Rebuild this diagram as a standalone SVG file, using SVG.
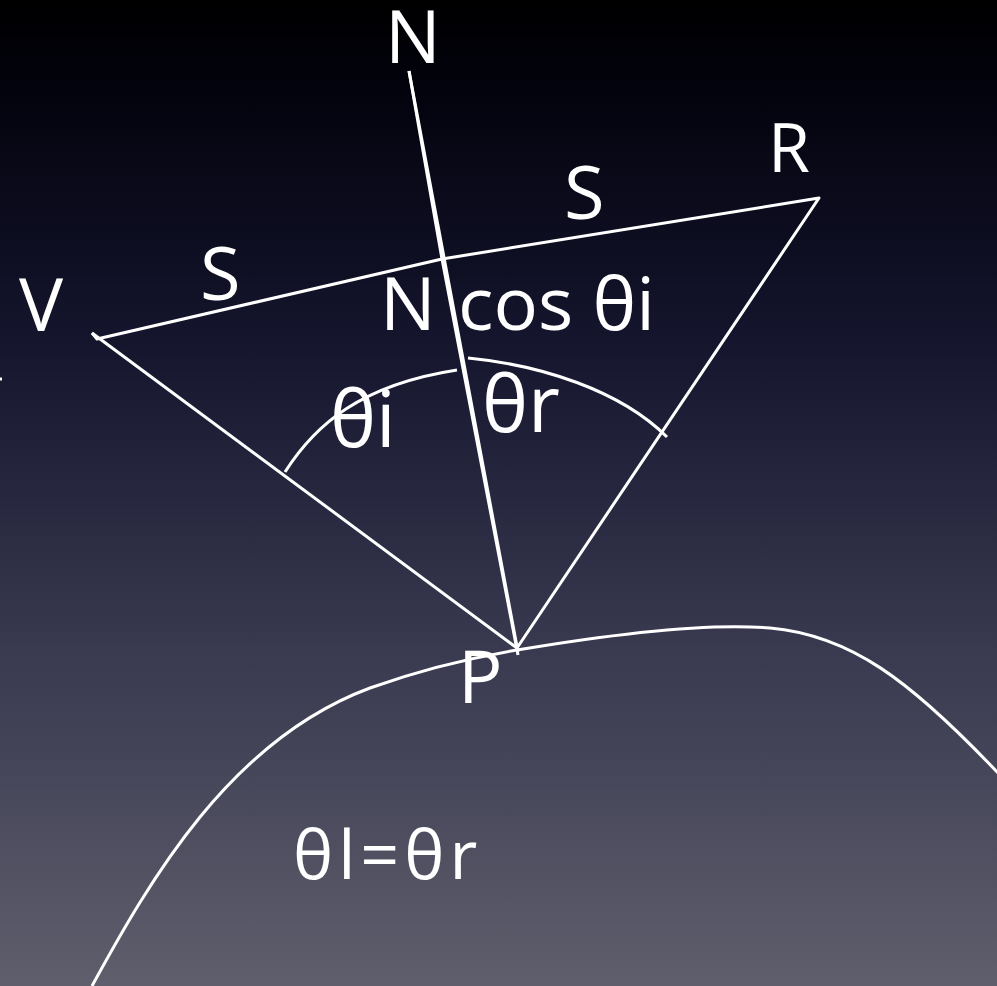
<svg xmlns="http://www.w3.org/2000/svg" width="997" height="986" viewBox="0 0 997 986">
<defs>
<linearGradient id="bg" x1="0" y1="0" x2="0" y2="1">
<stop offset="0" stop-color="#000000"/>
<stop offset="0.08" stop-color="#02020c"/>
<stop offset="0.35" stop-color="#15152e"/>
<stop offset="0.65" stop-color="#38384f"/>
<stop offset="1" stop-color="#5e5e6c"/>
</linearGradient>
<style>
.ln{fill:none;stroke:#ffffff;stroke-width:3;stroke-linecap:butt;stroke-linejoin:round}
.lb{fill:#ffffff;font-family:"Open Sans","Noto Sans","DejaVu Sans",sans-serif;font-size:74px}
.sm{font-size:68px}
.big{font-size:78px}
.eq{font-size:68px;letter-spacing:5px}
</style>
</defs>
<rect x="0" y="0" width="997" height="986" fill="url(#bg)"/>
<g id="connectors">
<path class="ln" d="M92,333 L97,339 L442,259 L819,198 L517,648"/>
<path class="ln" d="M92,333 L517,648"/>
<path class="ln" d="M409,71 L442,259 L518,655"/>
<path class="ln" d="M409,71 L518,652"/>
<path class="ln" d="M285,472 C315,425 360,385 457,370"/>
<path class="ln" d="M468,358 C540,365 620,390 667,437"/>
<path class="ln" d="M92,986 C150,880 230,740 370,688 C420,670 470,658 517,650 C600,636 700,622 770,628 C850,635 910,680 999,774"/>
<path class="ln" d="M0,379 L2,379"/>
</g>
<g id="node-N"><text class="lb" x="385" y="63">N</text></g>
<g id="node-R"><text class="lb sm" x="768" y="172">R</text></g>
<g id="node-V"><text class="lb" x="19" y="331">V</text></g>
<g id="node-P"><text class="lb" x="458" y="703">P</text></g>
<g id="label-S-left"><text class="lb" x="200" y="300">S</text></g>
<g id="label-S-right"><text class="lb" x="564" y="219">S</text></g>
<g id="label-Ncos"><text class="lb" x="380" y="330">N <tspan x="458">cos θi</tspan></text></g>
<g id="label-thetai"><text class="lb big" x="330" y="447">θi</text></g>
<g id="label-thetar"><text class="lb big" x="482" y="432">θr</text></g>
<g id="label-eq"><text class="lb eq" x="293" y="879">θl=θr</text></g>
</svg>
